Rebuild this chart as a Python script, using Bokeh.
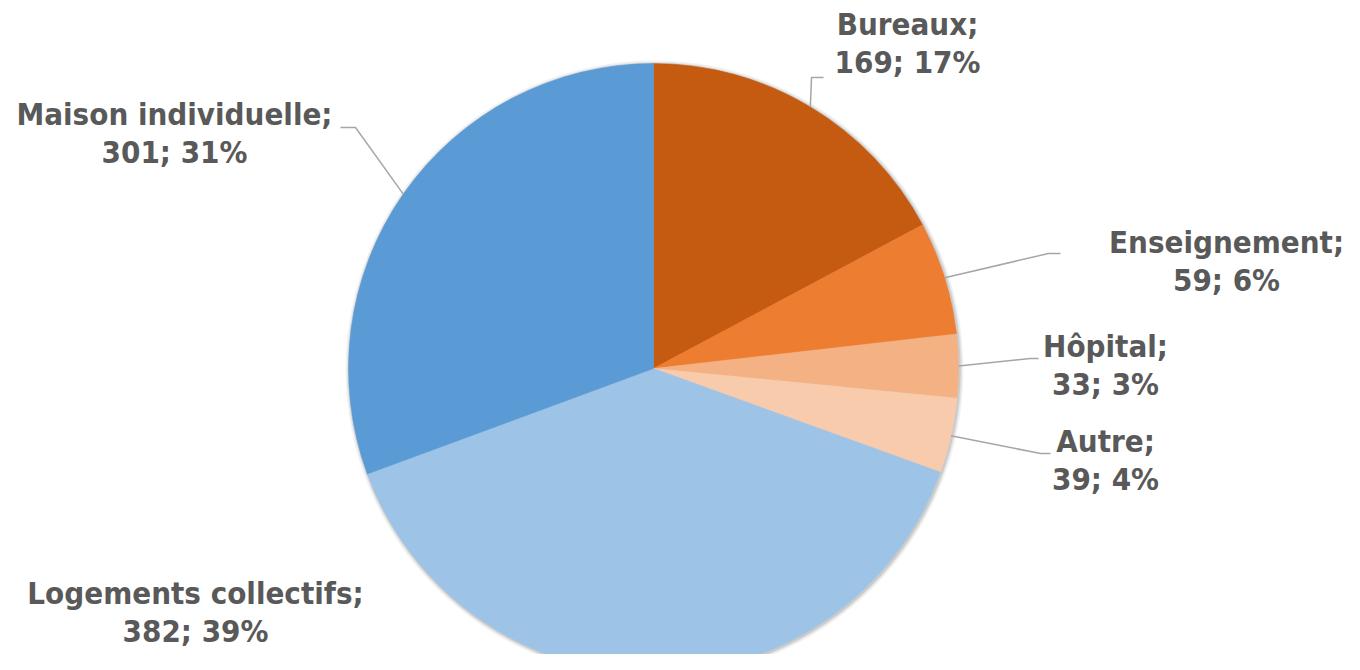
import math
from bokeh.plotting import figure
from bokeh.models import Range1d, ColumnDataSource
from bokeh.core.properties import value
from bokeh.embed import file_html
from bokeh.resources import INLINE

categories = ["Bureaux", "Enseignement", "Hôpital", "Autre", "Logements collectifs", "Maison individuelle"]
values = [169, 59, 33, 39, 382, 301]
colors = ["#C55A11", "#ED7D31", "#F4B183", "#F8CBAD", "#9DC3E6", "#5B9BD5"]

# label layout (px: center x, baseline of first line), elbow points of leaders
label_pos = [(907, 36), (1226, 254), (1105, 358), (1105, 453), (195, 605), (174, 126)]
elbow = [(811, 77), (1048, 253), (1030, 358), (1040, 453), None, (355, 127)]
elbow_end = [(823, 77), (1060, 253), (1038, 358), (1050, 453), None, (340, 127)]
TEXT_SHIFT = 13  # compensation for renderer baseline offset

W, H = 1344, 654
def Y(y):
    return H - y

p = figure(width=W, height=H, output_backend="svg", toolbar_location=None,
           x_range=Range1d(0, W), y_range=Range1d(0, H), min_border=0)
p.axis.visible = False
p.grid.visible = False
p.outline_line_color = None

cx, cy, r = 653, 368, 305
total = sum(values)
starts, ends, mids = [], [], []
cum = 0
for v in values:
    a0 = cum / total
    cum += v
    a1 = cum / total
    starts.append(math.pi / 2 - a0 * 2 * math.pi)
    ends.append(math.pi / 2 - a1 * 2 * math.pi)
    mids.append(math.pi / 2 - (a0 + a1) / 2 * 2 * math.pi)

# soft shadow around the pie
for k, a in [(4, 0.05), (2.5, 0.07), (1.2, 0.09)]:
    p.circle(x=[cx + 1], y=[Y(cy) - 1], radius=r + k, fill_color="black",
             fill_alpha=a, line_color=None)

src = ColumnDataSource(dict(x=[cx] * len(values), y=[Y(cy)] * len(values),
                            s=starts, e=ends, c=colors))
p.wedge(x="x", y="y", radius=r, start_angle="s", end_angle="e", direction="clock",
        fill_color="c", line_color="c", line_width=0.5, source=src)

# leader lines
for i, m in enumerate(mids):
    if elbow[i] is None:
        continue
    sx = cx + r * math.cos(m)
    sy = cy - r * math.sin(m)
    xs = [sx, elbow[i][0], elbow_end[i][0]]
    ys = [Y(sy), Y(elbow[i][1]), Y(elbow_end[i][1])]
    p.line(xs, ys, line_color="#A6A6A6", line_width=1.5)

tx, ty, tt = [], [], []
for i, (name, v) in enumerate(zip(categories, values)):
    pct = round(v / total * 100)
    x0, y0 = label_pos[i]
    y0 -= TEXT_SHIFT
    tx += [x0, x0]
    ty += [Y(y0), Y(y0 + 38)]
    tt += [name + ";", f"{v}; {pct}%"]

p.text(x=tx, y=ty, text=tt, text_align="center", text_baseline="alphabetic",
       text_font=value("DejaVu Sans Condensed"), text_font_style="bold",
       text_font_size="31px", text_color="#595959")

open("out.html", "w").write(file_html(p, INLINE))
